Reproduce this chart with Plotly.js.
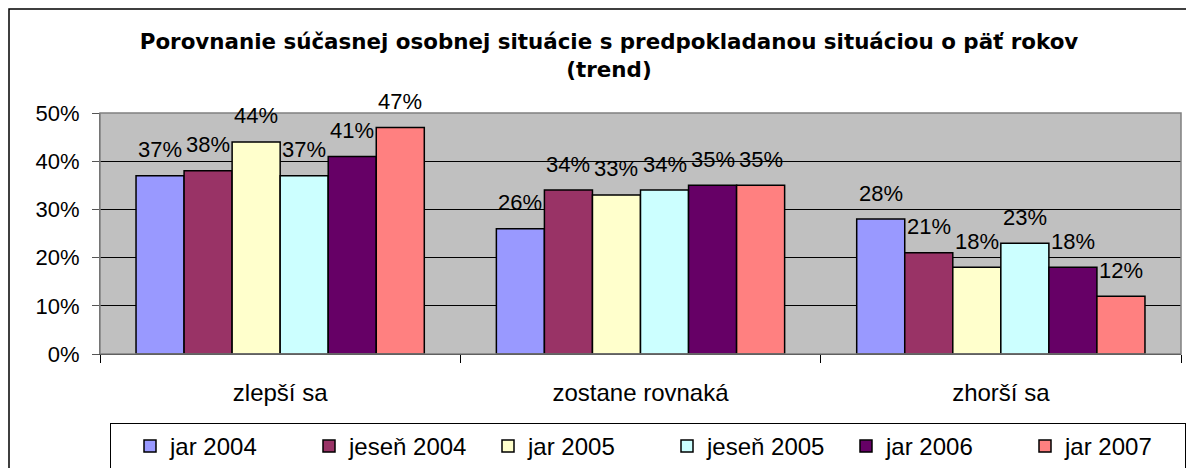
<!DOCTYPE html>
<html>
<head>
<meta charset="utf-8">
<script src="https://cdn.plot.ly/plotly-3.0.1.min.js"></script>
<style>
  html, body { margin: 0; padding: 0; background: #fff; }
  #chart { width: 1186px; height: 468px; }
</style>
</head>
<body>
<div id="chart"></div>
<script>
const categories = ["zlepší sa", "zostane rovnaká", "zhorší sa"];
const seriesNames = ["jar 2004", "jeseň 2004", "jar 2005", "jeseň 2005", "jar 2006", "jar 2007"];
const jar2004   = [37, 26, 28];
const jesen2004 = [38, 34, 21];
const jar2005   = [44, 33, 18];
const jesen2005 = [37, 34, 23];
const jar2006   = [41, 35, 18];
const jar2007   = [47, 35, 12];
const seriesValues = [jar2004, jesen2004, jar2005, jesen2005, jar2006, jar2007];
const colors = ["#9999FF", "#993366", "#FFFFCC", "#CCFFFF", "#660066", "#FF8080"];
const yTickVals = [0, 10, 20, 30, 40, 50];
const yTickText = ["0%", "10%", "20%", "30%", "40%", "50%"];

const FONT = "Liberation Sans, Arial, sans-serif";
const TITLE_FONT = "DejaVu Sans, Verdana, sans-serif";
const bargap = 0.2;

const traces = seriesValues.map((vals, i) => ({
  type: "bar",
  name: seriesNames[i],
  x: categories,
  y: vals,
  marker: { color: colors[i], line: { color: "#000", width: 1.5 } },
  hoverinfo: "skip"
}));

const n = seriesValues.length;
const annotations = [];
seriesValues.forEach((vals, i) => {
  vals.forEach((v, j) => {
    annotations.push({
      xref: "x", yref: "y",
      x: j + (i - (n - 1) / 2) * (1 - bargap) / n,
      y: v,
      text: v + "%",
      showarrow: false,
      yanchor: "middle",
      yshift: 26,
      font: { family: FONT, size: 22, color: "#000" }
    });
  });
});

const layout = {
  width: 1186, height: 468,
  margin: { l: 100, r: 5, t: 113, b: 114 },
  paper_bgcolor: "#fff",
  plot_bgcolor: "#C0C0C0",
  barmode: "group",
  bargap: bargap,
  bargroupgap: 0,
  title: {
    text: "Porovnanie súčasnej osobnej situácie s predpokladanou situáciou o päť rokov<br>(trend)",
    font: { family: TITLE_FONT, size: 21.4, color: "#000", weight: "bold" },
    x: 609 / 1186, xanchor: "center", xref: "container",
    y: 1 - 49 / 468, yanchor: "middle", yref: "container"
  },
  xaxis: {
    type: "category",
    tickson: "boundaries",
    ticks: "outside", ticklen: 8, tickcolor: "#000", tickwidth: 1,
    showline: true, linecolor: "#000", linewidth: 1,
    showgrid: false,
    ticklabelstandoff: 17,
    tickfont: { family: FONT, size: 24, color: "#000" },
    fixedrange: true
  },
  yaxis: {
    range: [0, 50],
    tickvals: yTickVals, ticktext: yTickText,
    ticks: "outside", ticklen: 7, tickcolor: "#555", tickwidth: 1,
    showline: true, linecolor: "#555", linewidth: 1,
    showgrid: true, gridcolor: "#000", gridwidth: 1,
    zeroline: false,
    ticklabelstandoff: 8,
    tickfont: { family: FONT, size: 22, color: "#000" },
    fixedrange: true
  },
  legend: {
    orientation: "h",
    xref: "container", yref: "container",
    x: 110 / 1186, xanchor: "left",
    y: 1 - 423 / 468, yanchor: "top",
    bgcolor: "#fff",
    bordercolor: "#000", borderwidth: 1,
    indentation: 19,
    font: { family: FONT, size: 24, color: "#000" },
    entrywidth: 115, entrywidthmode: "pixels",
    traceorder: "normal",
    itemclick: false, itemdoubleclick: false
  },
  annotations: annotations,
  shapes: [
    { type: "rect", xref: "paper", yref: "paper", layer: "below",
      x0: -91 / 1081, x1: 1.2, y0: -0.6, y1: 1 + 104 / 241,
      line: { color: "#000", width: 1.5 }, fillcolor: "rgba(0,0,0,0)" },
    { type: "rect", xref: "paper", yref: "paper", layer: "above",
      x0: 0, x1: 1, y0: 0, y1: 1,
      line: { color: "#808080", width: 1.5 }, fillcolor: "rgba(0,0,0,0)" }
  ],
  showlegend: true
};

Plotly.newPlot("chart", traces, layout, { staticPlot: true, displayModeBar: false });
</script>
</body>
</html>
